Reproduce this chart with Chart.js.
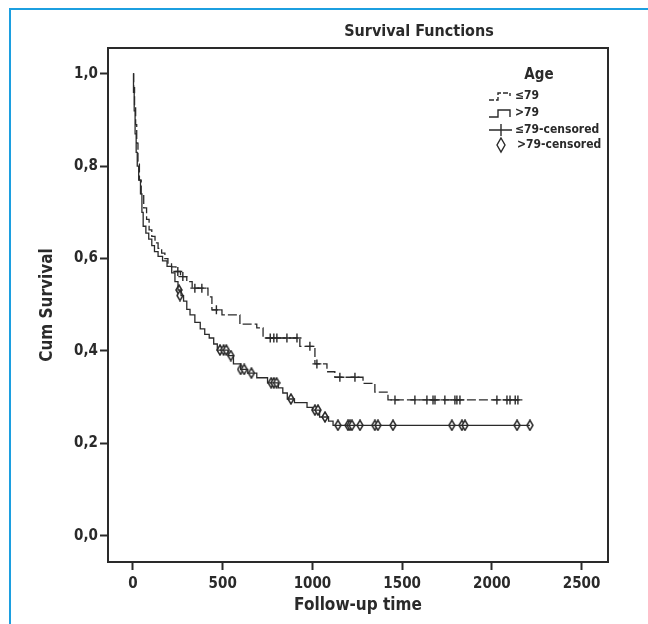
<!DOCTYPE html>
<html>
<head>
<meta charset="utf-8">
<script src="https://cdn.jsdelivr.net/npm/chart.js@4.4.1/dist/chart.umd.min.js"></script>
<style>
  body { margin: 0; background: #fff; }
  #wrap { position: relative; width: 648px; height: 624px; }
  #frame { position: absolute; left: 9px; top: 8px; right: 0; bottom: 0;
           border-top: 2px solid #1c9fe0; border-left: 2px solid #1c9fe0; }
  #c { position: absolute; left: 0; top: 0; }
</style>
</head>
<body>
<div id="wrap">
  <div id="frame"></div>
  <canvas id="c" width="648" height="624"></canvas>
</div>
<script>
// Kaplan-Meier, Age <=79 (dashed)
var le79Time = [0, 4, 9, 15, 21, 28, 36, 46, 60, 76, 90, 105, 123, 140, 160, 178, 195, 215, 240, 265, 300, 330, 418, 440, 496, 596, 690, 725, 930, 1014, 1081, 1125, 1282, 1348, 1421, 2145];
var le79Surv = [1.0, 0.97, 0.93, 0.89, 0.85, 0.81, 0.77, 0.74, 0.71, 0.685, 0.662, 0.648, 0.634, 0.622, 0.612, 0.60, 0.59, 0.582, 0.572, 0.561, 0.55, 0.536, 0.517, 0.489, 0.478, 0.458, 0.45, 0.428, 0.41, 0.372, 0.355, 0.343, 0.33, 0.311, 0.294, 0.294];
var le79CensTime = [250, 278, 345, 384, 465, 765, 785, 802, 858, 914, 986, 1025, 1153, 1237, 1460, 1571, 1638, 1672, 1683, 1738, 1794, 1805, 1822, 2028, 2084, 2101, 2130, 2145];
var le79CensSurv = [0.572, 0.561, 0.536, 0.536, 0.489, 0.428, 0.428, 0.428, 0.428, 0.428, 0.41, 0.372, 0.343, 0.343, 0.294, 0.294, 0.294, 0.294, 0.294, 0.294, 0.294, 0.294, 0.294, 0.294, 0.294, 0.294, 0.294, 0.294];

// Age >79 (solid)
var gt79Time = [0, 3, 7, 12, 18, 24, 32, 42, 50, 57, 72, 88, 105, 120, 140, 165, 190, 216, 234, 251, 268, 282, 300, 318, 345, 375, 400, 425, 450, 470, 530, 560, 600, 640, 690, 750, 810, 835, 860, 900, 970, 1000, 1040, 1090, 1115, 2212];
var gt79Surv = [1.0, 0.96, 0.92, 0.87, 0.83, 0.80, 0.77, 0.74, 0.70, 0.67, 0.655, 0.642, 0.628, 0.615, 0.605, 0.595, 0.583, 0.569, 0.55, 0.532, 0.52, 0.508, 0.49, 0.478, 0.462, 0.448, 0.436, 0.428, 0.415, 0.402, 0.39, 0.372, 0.36, 0.352, 0.342, 0.331, 0.32, 0.309, 0.296, 0.288, 0.278, 0.272, 0.257, 0.248, 0.239, 0.239];
var gt79CensTime = [256, 262, 485, 505, 520, 545, 600, 620, 660, 770, 785, 800, 880, 1014, 1031, 1070, 1142, 1198, 1209, 1220, 1265, 1348, 1365, 1449, 1777, 1833, 1850, 2140, 2212];
var gt79CensSurv = [0.532, 0.52, 0.402, 0.402, 0.402, 0.39, 0.36, 0.36, 0.352, 0.331, 0.331, 0.331, 0.296, 0.272, 0.272, 0.257, 0.239, 0.239, 0.239, 0.239, 0.239, 0.239, 0.239, 0.239, 0.239, 0.239, 0.239, 0.239, 0.239];

var xTicks = [0, 500, 1000, 1500, 2000, 2500];
var xTickLabels = ['0', '500', '1000', '1500', '2000', '2500'];
var yTicks = [0, 0.2, 0.4, 0.6, 0.8, 1.0];
var yTickLabels = ['0,0', '0,2', '0,4', '0,6', '0,8', '1,0'];

var FONT = "'Liberation Sans Narrow', 'DejaVu Sans Condensed', 'Arial Narrow', sans-serif";
var INK = '#2a2a2a';

function pts(t, s) {
    var out = [];
    for (var i = 0; i < t.length; i++) out.push({x: t[i], y: s[i]});
    return out;
}

// narrow diamond for censored >79
function makeDiamond() {
    var cv = document.createElement('canvas');
    cv.width = 8; cv.height = 12;
    var g = cv.getContext('2d');
    g.beginPath();
    g.moveTo(4, 1); g.lineTo(7, 6); g.lineTo(4, 11); g.lineTo(1, 6); g.closePath();
    g.fillStyle = '#fff'; g.fill();
    g.lineWidth = 1.5; g.strokeStyle = INK; g.stroke();
    return cv;
}
var diamond = makeDiamond();

// frame, title and legend
var decor = {
    id: 'decor',
    afterDraw: function(chart) {
        var ctx = chart.ctx, a = chart.chartArea;
        ctx.save();
        ctx.strokeStyle = INK;
        ctx.lineWidth = 2;
        ctx.strokeRect(a.left, a.top, a.right - a.left, a.bottom - a.top);

        ctx.fillStyle = INK;
        ctx.textBaseline = 'middle';
        ctx.textAlign = 'center';
        ctx.font = 'bold 16px ' + FONT;
        ctx.fillText('Survival Functions', 419, 32);

        ctx.font = 'bold 15px ' + FONT;
        ctx.fillText('Age', 539, 75);

        ctx.textAlign = 'left';
        ctx.font = 'bold 12px ' + FONT;
        var rows = [96, 113, 130, 145];
        var names = ['\u226479', '>79', '\u226479-censored', '>79-censored'];
        for (var i = 0; i < names.length; i++) ctx.fillText(names[i], i == 3 ? 517 : 515, rows[i]);

        ctx.lineWidth = 1.4;
        // <=79 dashed step
        ctx.setLineDash([5, 2]);
        ctx.beginPath();
        ctx.moveTo(489, rows[0] + 4); ctx.lineTo(498, rows[0] + 4); ctx.lineTo(498, rows[0] - 3);
        ctx.lineTo(510, rows[0] - 3); ctx.lineTo(510, rows[0]);
        ctx.stroke();
        ctx.setLineDash([]);
        // >79 solid step
        ctx.beginPath();
        ctx.moveTo(489, rows[1] + 4); ctx.lineTo(498, rows[1] + 4); ctx.lineTo(498, rows[1] - 3);
        ctx.lineTo(510, rows[1] - 3); ctx.lineTo(510, rows[1] + 4);
        ctx.stroke();
        // cross
        ctx.beginPath();
        ctx.moveTo(489, rows[2]); ctx.lineTo(512, rows[2]);
        ctx.moveTo(501, rows[2] - 6); ctx.lineTo(501, rows[2] + 6);
        ctx.stroke();
        // diamond
        ctx.beginPath();
        ctx.moveTo(501, rows[3] - 7); ctx.lineTo(505, rows[3]); ctx.lineTo(501, rows[3] + 7); ctx.lineTo(497, rows[3]);
        ctx.closePath();
        ctx.stroke();
        ctx.restore();
    }
};

new Chart(document.getElementById('c'), {
    type: 'scatter',
    data: {
        datasets: [
            {
                label: '\u226479',
                data: pts(le79Time, le79Surv),
                showLine: true, stepped: 'before',
                borderColor: INK, borderWidth: 1.3, borderDash: [9, 3],
                pointRadius: 0
            },
            {
                label: '>79',
                data: pts(gt79Time, gt79Surv),
                showLine: true, stepped: 'before',
                borderColor: INK, borderWidth: 1.3,
                pointRadius: 0
            },
            {
                label: '\u226479-censored',
                data: pts(le79CensTime, le79CensSurv),
                showLine: false,
                pointStyle: 'cross', pointRadius: 4.5,
                borderColor: INK, borderWidth: 1.4
            },
            {
                label: '>79-censored',
                data: pts(gt79CensTime, gt79CensSurv),
                showLine: false,
                pointStyle: diamond, pointRadius: 4
            }
        ]
    },
    options: {
        responsive: false,
        animation: false,
        layout: { padding: { left: 0, top: 48, right: 40, bottom: 0 } },
        plugins: { legend: { display: false }, tooltip: { enabled: false } },
        scales: {
            x: {
                type: 'linear', min: -139, max: 2647,
                afterBuildTicks: function(s) { s.ticks = xTicks.map(function(v) { return {value: v}; }); },
                afterFit: function(s) { s.height = 62; },
                border: { display: false },
                grid: { drawOnChartArea: false, drawTicks: true, tickLength: 8, tickColor: INK, tickWidth: 2 },
                ticks: {
                    color: INK, padding: 5, font: { family: FONT, weight: 'bold', size: 15 },
                    callback: function(v) { return xTickLabels[xTicks.indexOf(v)]; }
                },
                title: { display: true, text: 'Follow-up time', color: INK,
                         font: { family: FONT, weight: 'bold', size: 17 }, padding: { bottom: 8 } }
            },
            y: {
                type: 'linear', min: -0.057, max: 1.056,
                afterBuildTicks: function(s) { s.ticks = yTicks.map(function(v) { return {value: v}; }); },
                afterFit: function(s) { s.width = 108; },
                border: { display: false },
                grid: { drawOnChartArea: false, drawTicks: true, tickLength: 8, tickColor: INK, tickWidth: 2 },
                ticks: {
                    color: INK, padding: 2, font: { family: FONT, weight: 'bold', size: 15 },
                    callback: function(v) { return yTickLabels[yTicks.indexOf(v)]; }
                },
                title: { display: true, text: 'Cum Survival', color: INK,
                         font: { family: FONT, weight: 'bold', size: 17 }, padding: { top: 37 } }
            }
        }
    },
    plugins: [decor]
});
</script>
</body>
</html>
